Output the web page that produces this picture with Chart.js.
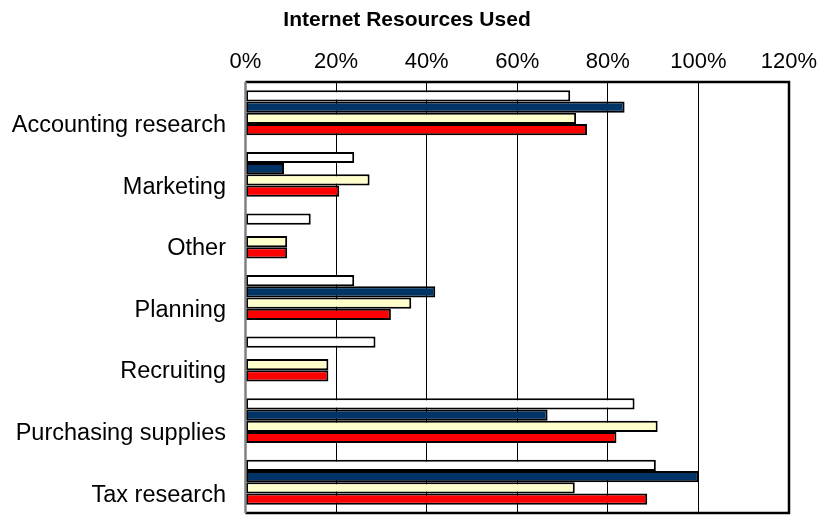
<!DOCTYPE html>
<html>
<head>
<meta charset="utf-8">
<script src="https://cdn.jsdelivr.net/npm/chart.js@4"></script>
<style>
  html, body { margin: 0; padding: 0; background: #fff; }
  #wrap { width: 820px; height: 522px; }
</style>
</head>
<body>
<div id="wrap"><canvas id="myChart"></canvas></div>
<script>
// values (percent)
const categories = ['Accounting research', 'Marketing', 'Other', 'Planning', 'Recruiting', 'Purchasing supplies', 'Tax research'];
const series1 = [71.7, 24.0, 14.4, 24.0, 28.7, 85.9, 90.6];   // white
const series2 = [83.7, 8.5, 0, 41.9, 0, 66.7, 100.1];         // navy
const series3 = [73.0, 27.4, 9.2, 36.6, 18.3, 91.0, 72.7];    // light yellow
const series4 = [75.4, 20.7, 9.2, 32.1, 18.3, 81.9, 88.7];    // red
const xTicks = [0, 20, 40, 60, 80, 100, 120];
const chartTitle = 'Internet Resources Used';

const font = 'Arial, "Liberation Sans", sans-serif';

// frame round the plot area (black top/right/bottom, grey left) + title
const framePlugin = {
    id: 'frame',
    afterDatasetsDraw(chart) {
        const { ctx, chartArea: a } = chart;
        ctx.save();
        ctx.lineWidth = 2.5;
        ctx.strokeStyle = '#000';
        ctx.beginPath();
        ctx.moveTo(a.left, a.top);
        ctx.lineTo(a.right, a.top);
        ctx.lineTo(a.right, a.bottom);
        ctx.lineTo(a.left, a.bottom);
        ctx.stroke();
        ctx.strokeStyle = '#808080';
        ctx.beginPath();
        ctx.moveTo(a.left, a.top);
        ctx.lineTo(a.left, a.bottom);
        ctx.stroke();

        // title sits a bit right of the canvas centre, like the original
        ctx.fillStyle = '#000';
        ctx.font = 'bold 21px ' + font;
        ctx.textAlign = 'center';
        ctx.textBaseline = 'middle';
        ctx.fillText(chartTitle, 407, 20);
        ctx.restore();
    }
};

const makeSet = (label, data, color) => ({
    label: label,
    data: data,
    backgroundColor: color,
    borderColor: '#000',
    borderWidth: 2,
    borderSkipped: false,
    categoryPercentage: 0.73,
    barPercentage: 1.0
});

const renderChart = () => {
    const ctx = document.getElementById('myChart').getContext('2d');

    new Chart(ctx, {
        type: 'bar',
        data: {
            labels: categories.map(c => ['', c]),
            datasets: [
                makeSet('Series 1', series1, '#FFFFFF'),
                makeSet('Series 2', series2, '#003366'),
                makeSet('Series 3', series3, '#FFFFCC'),
                makeSet('Series 4', series4, '#FF0000')
            ]
        },
        options: {
            indexAxis: 'y',
            responsive: true,
            maintainAspectRatio: false,
            animation: false,
            layout: { padding: { left: 0, right: 31, top: 41.6, bottom: 9 } },
            plugins: {
                legend: { display: false },
                tooltip: { enabled: false },
                title: { display: false }
            },
            scales: {
                x: {
                    position: 'top',
                    min: 0,
                    max: 120,
                    afterBuildTicks: scale => { scale.ticks = xTicks.map(v => ({ value: v })); },
                    afterFit: scale => { scale.paddingLeft = 0; scale.paddingRight = 0; },
                    ticks: {
                        color: '#000',
                        font: { family: font, size: 22, lineHeight: 1.2 },
                        padding: 7,
                        callback: v => v + '%'
                    },
                    grid: { color: '#000', lineWidth: 1, drawTicks: false },
                    border: { display: false }
                },
                y: {
                    afterFit: scale => {
                        scale.width = 245.5;
                        scale.paddingTop = 0;
                        scale.paddingBottom = 0;
                    },
                    ticks: {
                        color: '#000',
                        autoSkip: false,
                        font: { family: font, size: 23.5, lineHeight: 1.1 },
                        padding: 19.5
                    },
                    grid: { display: false, drawTicks: false },
                    border: { display: false }
                }
            }
        },
        plugins: [framePlugin]
    });
};

document.addEventListener('DOMContentLoaded', renderChart);
</script>
</body>
</html>
